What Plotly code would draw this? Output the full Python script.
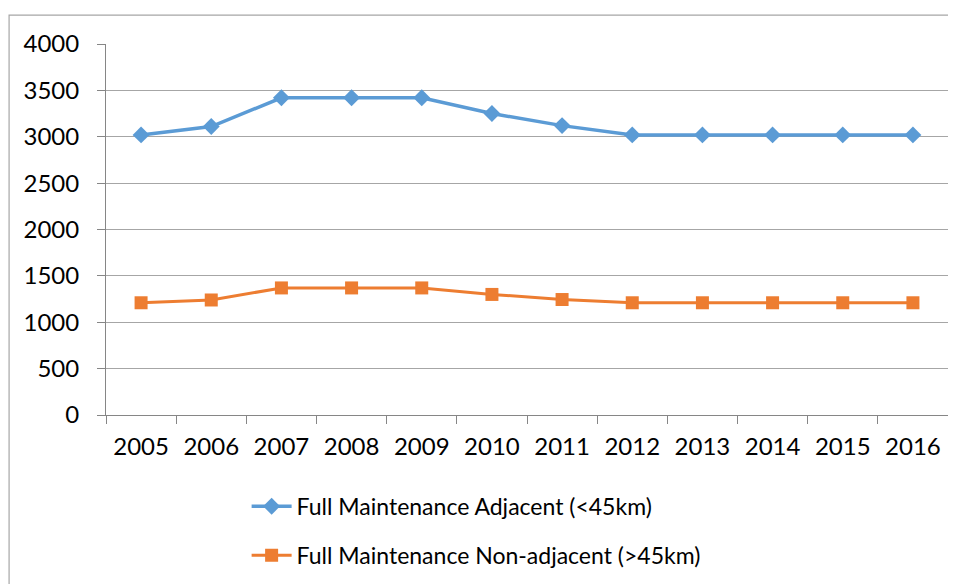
"""Full maintenance cost trend, Excel-style line chart."""

import plotly.graph_objects as go

YEARS = ["2005", "2006", "2007", "2008", "2009", "2010",
         "2011", "2012", "2013", "2014", "2015", "2016"]
ADJACENT = [3020, 3110, 3420, 3420, 3420, 3250, 3120, 3020, 3020, 3020, 3020, 3020]
NON_ADJACENT = [1210, 1240, 1370, 1370, 1370, 1300, 1245, 1210, 1210, 1210, 1210, 1210]

BLUE = "#5B9BD5"
ORANGE = "#ED7D31"
GRID = "#A6A6A6"
FONT = "Lato, 'Open Sans', sans-serif"

fig = go.Figure()
fig.add_trace(go.Scatter(
    x=YEARS, y=ADJACENT, mode="lines+markers",
    name="Full Maintenance Adjacent (<45km)", legendgroup="a",
    line=dict(color=BLUE, width=3.5),
    marker=dict(symbol="diamond", size=13, color=BLUE),
))
fig.add_trace(go.Scatter(
    x=YEARS, y=NON_ADJACENT, mode="lines+markers",
    name="Full Maintenance Non-adjacent (>45km)", legendgroup="b",
    line=dict(color=ORANGE, width=3),
    marker=dict(symbol="square", size=13, color=ORANGE),
))

# outer chart border (runs past the right/bottom edge like the source crop)
fig.add_shape(type="rect", xref="paper", yref="paper",
              x0=-0.1151, x1=1.05, y0=-0.6, y1=1.078,
              line=dict(color=GRID, width=1.2), layer="below")

fig.update_layout(
    width=948, height=576,
    paper_bgcolor="white", plot_bgcolor="white",
    margin=dict(l=98, r=8, t=36, b=168),
    font=dict(family=FONT, size=24, color="black"),
    showlegend=True,
    legend=dict(
        orientation="v", x=0.167, xanchor="left", y=-0.185, yanchor="top",
        font=dict(size=23), itemwidth=40, tracegroupgap=16,
        bgcolor="rgba(0,0,0,0)",
    ),
)
fig.update_xaxes(
    type="category", range=[-0.5, 11.5],
    showline=True, linecolor="#868686", linewidth=1,
    ticks="outside", tickson="boundaries", ticklen=8, tickcolor="#868686",
    showgrid=False, tickfont=dict(size=24), ticklabelstandoff=10,
)
fig.update_yaxes(
    range=[0, 4000], dtick=500,
    showline=True, linecolor="#868686", linewidth=1,
    ticks="outside", ticklen=8, tickcolor="#868686",
    showgrid=True, gridcolor=GRID, gridwidth=1, zeroline=False,
    tickfont=dict(size=24), ticklabelstandoff=13,
)

fig.write_html("out.html")
